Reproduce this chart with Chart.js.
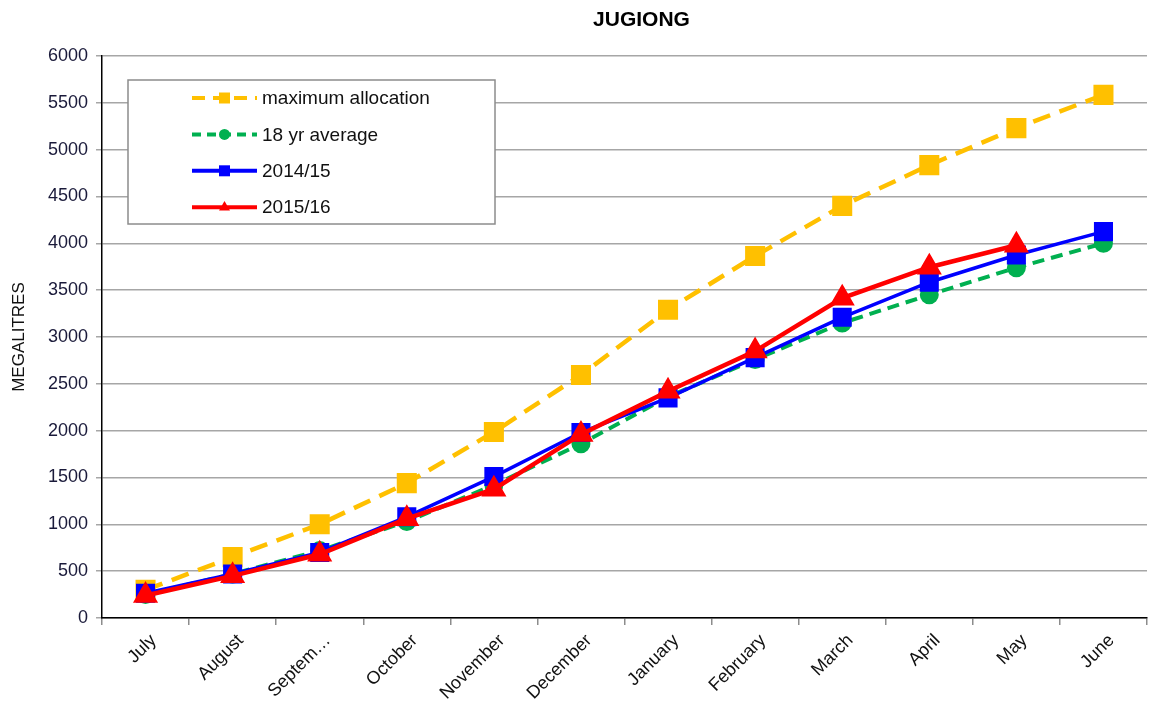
<!DOCTYPE html>
<html>
<head>
<meta charset="utf-8">
<script src="https://cdn.jsdelivr.net/npm/chart.js@4.4.0/dist/chart.umd.min.js"></script>
<style>
  html, body { margin: 0; padding: 0; background: #fff; }
</style>
</head>
<body>
<canvas id="chart" width="1152" height="707"></canvas>
<script>
// ===== DATA =====
const chartTitle = 'JUGIONG';
const months = ['July', 'August', 'September', 'October', 'November', 'December',
                'January', 'February', 'March', 'April', 'May', 'June'];
const maxAllocation = [300, 650, 1000, 1440, 1985, 2595, 3290, 3865, 4400, 4835, 5230, 5585];
const avg18yr      = [250, 470, 720, 1030, 1420, 1860, 2360, 2760, 3150, 3450, 3740, 4000];
const season1415   = [265, 470, 700, 1080, 1510, 1980, 2350, 2780, 3210, 3585, 3875, 4125];
const season1516   = [240, 450, 680, 1060, 1375, 1960, 2420, 2850, 3415, 3745, 3980, null];

const FONT = '"Liberation Sans", Arial, sans-serif';

function drawMarker(ctx, style, x, y, r) {
    ctx.beginPath();
    if (style === 'rect') {
        ctx.rect(x - r, y - r, 2 * r, 2 * r);
    } else if (style === 'triangle') {
        ctx.moveTo(x, y - r * 1.15);
        ctx.lineTo(x + r, y + r * 0.6);
        ctx.lineTo(x - r, y + r * 0.6);
        ctx.closePath();
    } else {
        ctx.arc(x, y, r, 0, Math.PI * 2);
    }
    ctx.fill();
}

// title drawn a little right of the plot centre, like the original
const titlePlugin = {
    id: 'chartTitle',
    afterDraw(chart) {
        const ctx = chart.ctx, a = chart.chartArea;
        ctx.save();
        ctx.font = 'bold 21px ' + FONT;
        ctx.fillStyle = '#000';
        ctx.textAlign = 'center';
        ctx.textBaseline = 'middle';
        ctx.fillText(chartTitle, (a.left + a.right) / 2 + 17, 20);
        ctx.restore();
    }
};

// boxed legend inside the plot, top-left
const boxLegend = {
    id: 'boxLegend',
    afterDraw(chart) {
        const ctx = chart.ctx, a = chart.chartArea;
        const x = a.left + 26, y = a.top + 24, w = 367, h = 144;
        ctx.save();
        ctx.fillStyle = '#fff';
        ctx.fillRect(x, y, w, h);
        ctx.strokeStyle = '#8c8c8c';
        ctx.lineWidth = 1.5;
        ctx.strokeRect(x, y, w, h);
        chart.data.datasets.forEach((ds, i) => {
            const cy = y + 18 + i * 36.4;
            const x0 = x + 64, x1 = x + 129;
            ctx.strokeStyle = ds.borderColor;
            ctx.lineWidth = 4;
            ctx.setLineDash(ds.legendDash || []);
            ctx.beginPath();
            ctx.moveTo(x0, cy);
            ctx.lineTo(x1, cy);
            ctx.stroke();
            ctx.setLineDash([]);
            ctx.fillStyle = ds.borderColor;
            drawMarker(ctx, ds.pointStyle, (x0 + x1) / 2, cy, 5.5);
            ctx.fillStyle = '#111';
            ctx.font = '19px ' + FONT;
            ctx.textAlign = 'left';
            ctx.textBaseline = 'middle';
            ctx.fillText(ds.label, x + 134, cy + 1);
        });
        ctx.restore();
    }
};

const ctx = document.getElementById('chart').getContext('2d');
new Chart(ctx, {
    type: 'line',
    data: {
        labels: months,
        datasets: [
            { label: 'maximum allocation', data: maxAllocation, borderColor: '#FFC000', backgroundColor: '#FFC000',
              borderWidth: 4.5, borderDash: [18, 10], legendDash: [13, 8], pointStyle: 'rect', pointRadius: 11, order: 3 },
            { label: '18 yr average', data: avg18yr, borderColor: '#00B050', backgroundColor: '#00B050',
              borderWidth: 4, borderDash: [12, 7], legendDash: [9, 6], pointStyle: 'circle', pointRadius: 7.5, order: 2 },
            { label: '2014/15', data: season1415, borderColor: '#0000FF', backgroundColor: '#0000FF',
              borderWidth: 3.5, pointStyle: 'rect', pointRadius: 11, order: 1 },
            { label: '2015/16', data: season1516, borderColor: '#FF0000', backgroundColor: '#FF0000',
              borderWidth: 4.5, pointStyle: 'triangle', pointRadius: 10, order: 0 }
        ]
    },
    options: {
        responsive: false,
        animation: false,
        layout: { autoPadding: false, padding: { left: 0, right: 5, top: 56, bottom: 0 } },
        elements: { line: { tension: 0 }, point: { borderWidth: 1 } },
        scales: {
            x: {
                offset: true,
                grid: { offset: true, drawOnChartArea: false, color: '#8c8c8c', tickLength: 7, lineWidth: 1.5 },
                border: { color: '#000', width: 1.5 },
                ticks: {
                    minRotation: 45, maxRotation: 45, padding: 5, labelOffset: 8,
                    color: '#111', font: { family: FONT, size: 18 },
                    callback: function (v) {
                        const s = this.getLabelForValue(v);
                        return s.length > 8 ? s.slice(0, 6) + '…' : s;
                    }
                },
                afterFit: (s) => { s.height = 89; }
            },
            y: {
                min: 0, max: 6000,
                grid: { color: '#a6a6a6', lineWidth: 1.5, tickLength: 6 },
                border: { color: '#000', width: 1.5 },
                ticks: { stepSize: 500, padding: 8, color: '#1a1a3a', font: { family: FONT, size: 18 },
                         callback: (v) => String(v) },
                title: { display: true, text: 'MEGALITRES', color: '#111', font: { family: FONT, size: 17 },
                         padding: { top: 9, bottom: 0 } },
                afterFit: (s) => { s.width = 102; }
            }
        },
        plugins: { legend: { display: false }, tooltip: { enabled: false } }
    },
    plugins: [titlePlugin, boxLegend]
});
</script>
</body>
</html>
